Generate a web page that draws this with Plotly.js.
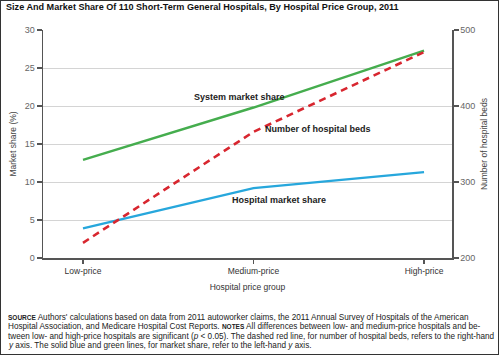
<!DOCTYPE html>
<html>
<head>
<meta charset="utf-8">
<script src="https://cdn.plot.ly/plotly-3.0.1.min.js"></script>
<style>
html,body{margin:0;padding:0;background:#fff;}
#wrap{position:relative;width:500px;height:356px;}
#chart{width:500px;height:356px;}
#frame{position:absolute;left:0;top:0;width:497px;height:353px;border:1.5px solid #333;pointer-events:none;}
</style>
</head>
<body>
<div id="wrap"><div id="chart"></div><div id="frame"></div></div>
<script>
const categories = ["Low-price", "Medium-price", "High-price"];
const systemShare = [12.9, 19.8, 27.3];
const hospitalShare = [3.9, 9.2, 11.3];
const hospitalBeds = [220, 366, 471];
const leftTicks = [0, 5, 10, 15, 20, 25, 30];
const rightTicks = [200, 300, 400, 500];

const xIdx = categories.map((c, i) => i);

const traces = [
  {x: xIdx, y: systemShare, type: 'scatter', mode: 'lines', name: 'System market share',
   line: {color: '#45ad4e', width: 2.4}, yaxis: 'y'},
  {x: xIdx, y: hospitalShare, type: 'scatter', mode: 'lines', name: 'Hospital market share',
   line: {color: '#27a7dc', width: 2.4}, yaxis: 'y'},
  {x: xIdx, y: hospitalBeds, type: 'scatter', mode: 'lines', name: 'Number of hospital beds',
   line: {color: '#d8262f', width: 2.6, dash: '7px,5px'}, yaxis: 'y2'}
];

const tickFont = {family: 'Liberation Sans, Arial, sans-serif', size: 9, color: '#666'};

const ann = (text, x, y) => ({text: '<b>' + text + '</b>', x: x, y: y, xref: 'x', yref: 'y',
  showarrow: false, font: {family: 'Liberation Sans Narrow, Liberation Sans, Arial, sans-serif', size: 9, color: '#222'}});

const sc = (t) => "<b><span style='font-size:6.5px'>" + t + "</span></b>";
const footerLines = [
  sc('SOURCE') + " Authors' calculations based on data from 2011 autoworker claims, the 2011 Annual Survey of Hospitals of the American",
  "Hospital Association, and Medicare Hospital Cost Reports. " + sc('NOTES') + " All differences between low- and medium-price hospitals and be-",
  "tween low- and high-price hospitals are significant (<i>p</i> &lt; 0.05). The dashed red line, for number of hospital beds, refers to the right-hand",
  "<i>y</i> axis. The solid blue and green lines, for market share, refer to the left-hand <i>y</i> axis."
];
const footerY = [317, 326.5, 336, 345.5];

const footerAnns = footerLines.map((t, i) => ({
  text: t, xref: 'paper', yref: 'paper', x: (6 - 43) / 409, y: (258 - footerY[i]) / 228,
  xanchor: 'left', yanchor: 'middle', align: 'left', showarrow: false,
  font: {family: 'Liberation Sans, Arial, sans-serif', size: 8.2, color: '#222'}
}));

const layout = {
  width: 500, height: 356,
  margin: {l: 43, r: 48, t: 30, b: 98},
  paper_bgcolor: '#fff', plot_bgcolor: '#fff',
  showlegend: false,
  title: {text: '<b>Size And Market Share Of 110 Short-Term General Hospitals, By Hospital Price Group, 2011</b>',
    x: 0.012, xanchor: 'left', xref: 'container', y: 0.98, yanchor: 'middle', yref: 'container',
    font: {family: 'Liberation Sans, Arial, sans-serif', size: 9.1, color: '#111'}},
  xaxis: {
    range: [-0.2346, 2.164], tickmode: 'array', tickvals: xIdx, ticktext: categories,
    showgrid: false, zeroline: false, showline: true, linecolor: '#555', linewidth: 1.5,
    ticks: 'outside', ticklen: 4, tickwidth: 1.3, tickcolor: '#555',
    tickfont: {family: 'Liberation Sans, Arial, sans-serif', size: 8.5, color: '#333'},
    title: {text: 'Hospital price group', standoff: 9, font: {family: 'Liberation Sans, Arial, sans-serif', size: 8.5, color: '#333'}},
    fixedrange: true
  },
  yaxis: {
    range: [0, 30], tickmode: 'array', tickvals: leftTicks, ticktext: leftTicks.map(String),
    showgrid: true, gridcolor: '#d4d4d4', gridwidth: 1, zeroline: false,
    showline: true, linecolor: '#555', linewidth: 1.5,
    ticks: 'outside', ticklen: 5, tickwidth: 1.3, tickcolor: '#555', tickfont: tickFont,
    title: {text: 'Market share (%)', standoff: 6, font: {family: 'Liberation Sans, Arial, sans-serif', size: 8.5, color: '#444'}},
    fixedrange: true
  },
  yaxis2: {
    range: [200, 500], overlaying: 'y', side: 'right', tickmode: 'array', tickvals: rightTicks, ticktext: rightTicks.map(String),
    showgrid: false, zeroline: false, showline: true, linecolor: '#555', linewidth: 1.5,
    ticks: 'outside', ticklen: 5, tickwidth: 1.3, tickcolor: '#555', tickfont: tickFont,
    title: {text: 'Number of hospital beds', standoff: 6, font: {family: 'Liberation Sans, Arial, sans-serif', size: 8.5, color: '#444'}},
    fixedrange: true
  },
  annotations: [
    ann('System market share', 0.92, 21.2),
    ann('Number of hospital beds', 1.38, 17.0),
    ann('Hospital market share', 1.15, 7.6)
  ].concat(footerAnns)
};

Plotly.newPlot('chart', traces, layout, {displayModeBar: false, staticPlot: true});
</script>
</body>
</html>
